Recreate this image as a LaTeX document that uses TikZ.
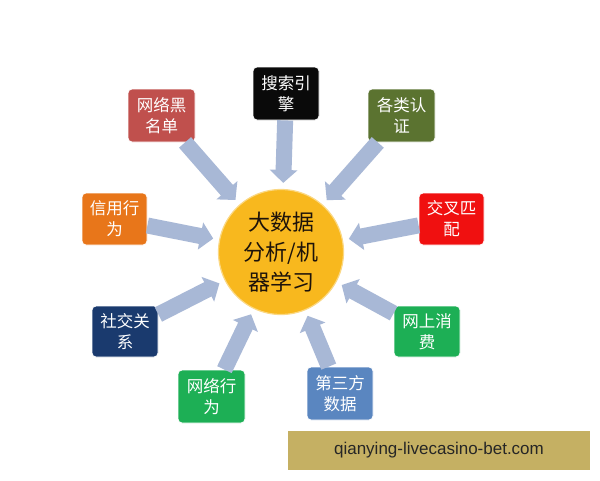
\documentclass[tikz,border=0pt]{standalone}
\usepackage{fontspec}
\setmainfont{Liberation Sans}
\newfontfamily\cjk{Noto Sans CJK SC}
\usetikzlibrary{arrows.meta}
\definecolor{arrowc}{HTML}{A8B8D6}
\definecolor{circc}{HTML}{F8B81E}
\definecolor{cbl}{HTML}{C0504D}
\definecolor{css}{HTML}{0A0A0A}
\definecolor{crz}{HTML}{5B7330}
\definecolor{cxy}{HTML}{E8761A}
\definecolor{cjc}{HTML}{F01010}
\definecolor{csj}{HTML}{1A3A6E}
\definecolor{cgreen}{HTML}{1DAF55}
\definecolor{cds}{HTML}{5A86C0}
\definecolor{cwm}{HTML}{C5B063}
\begin{document}
\begin{tikzpicture}[x=1pt,y=-1pt,
  srcbox/.style={rectangle,rounded corners=4pt,draw=white,line width=0.8pt,
    text=white,align=center,inner sep=0pt,
    font=\cjk\fontsize{16.5}{21}\selectfont},
  bigarrow/.style={draw=arrowc,line width=16pt,
    -{Triangle[width=27pt,length=13pt]},shorten >=6pt}]
\useasboundingbox (0,0) rectangle (600,480);
\fill[white] (0,0) rectangle (600,480);
% center
\node[circle,fill=circc,draw=circc!55!white,line width=1.2pt,minimum size=125pt,inner sep=0pt,
  align=center,font=\cjk\fontsize{22}{30}\selectfont,text=black!85!brown] (c) at (281,252)
  {大数据\\分析/机\\器学习};
% sources
\node[srcbox,fill=cbl,minimum width=67pt,minimum height=53pt] (bl) at (161.5,115.5) {网络黑\\名单};
\node[srcbox,fill=css,minimum width=66pt,minimum height=53pt] (ss) at (286,93.5) {搜索引\\擎};
\node[srcbox,fill=crz,minimum width=67pt,minimum height=53pt] (rz) at (401.5,115.5) {各类认\\证};
\node[srcbox,fill=cxy,minimum width=65pt,minimum height=52pt] (xy) at (114.5,219) {信用行\\为};
\node[srcbox,fill=cjc,minimum width=65pt,minimum height=52pt] (jc) at (451.5,219) {交叉匹\\配};
\node[srcbox,fill=csj,minimum width=66pt,minimum height=51pt] (sj) at (125,331.5) {社交关\\系};
\node[srcbox,fill=cgreen,minimum width=66pt,minimum height=51pt] (ws) at (427,331.5) {网上消\\费};
\node[srcbox,fill=cgreen,minimum width=67pt,minimum height=53pt] (wl) at (211.5,396.5) {网络行\\为};
\node[srcbox,fill=cds,minimum width=66pt,minimum height=53pt] (ds) at (340,393.5) {第三方\\数据};
% arrows
\foreach \s in {bl,ss,rz,xy,jc,sj,ws,wl,ds}
  \draw[bigarrow] (\s) -- (c);
% watermark
\node[rectangle,fill=cwm,minimum width=302pt,minimum height=39pt,inner sep=0pt,
  font=\fontsize{17}{20}\selectfont,text=black!85] (wm) at (439,450.5) {qianying-livecasino-bet.com};
\end{tikzpicture}
\end{document}
